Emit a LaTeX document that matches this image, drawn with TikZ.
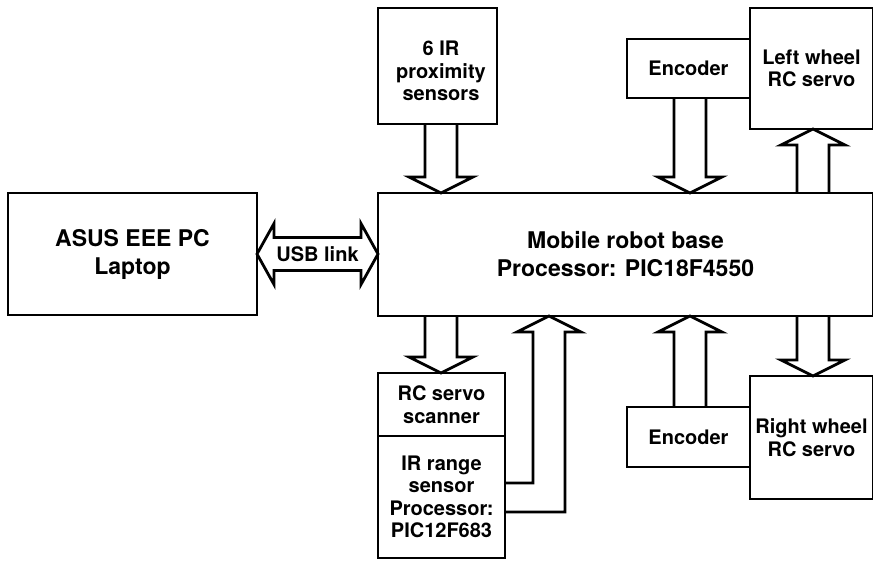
\documentclass[tikz,border=0pt]{standalone}
\usepackage{fontspec}
\setmainfont{TeX Gyre Heros}
\usetikzlibrary{calc}

% Hollow block arrows: #1 = x of the arrow axis, #2 = tail anchor, #3 = tip anchor
\newcommand\fatdown[3]{%
  \draw[fat] let \p1=(#2), \p2=(#3) in
    ({#1pt-16pt},{\y1}) -- ({#1pt-16pt},{\y2+16pt}) -- ({#1pt-32pt},{\y2+16pt})
    -- ({#1pt},{\y2}) -- ({#1pt+32pt},{\y2+16pt}) -- ({#1pt+16pt},{\y2+16pt})
    -- ({#1pt+16pt},{\y1});}
\newcommand\fatup[3]{%
  \draw[fat] let \p1=(#2), \p2=(#3) in
    ({#1pt-16pt},{\y1}) -- ({#1pt-16pt},{\y2-16pt}) -- ({#1pt-32pt},{\y2-16pt})
    -- ({#1pt},{\y2}) -- ({#1pt+32pt},{\y2-16pt}) -- ({#1pt+16pt},{\y2-16pt})
    -- ({#1pt+16pt},{\y1});}

\begin{document}
\begin{tikzpicture}[x=1pt,y=-1pt,
  box/.style={draw, line width=2.8pt, outer sep=0pt, inner sep=0pt, align=center,
    font=\bfseries\fontsize{20}{22.5}\selectfont},
  bigbox/.style={box, font=\bfseries\fontsize{23}{28}\selectfont},
  lbl/.style={align=center, inner sep=0pt, font=\bfseries\fontsize{20}{22.5}\selectfont},
  fat/.style={draw, line width=2.8pt, line join=miter}]
\useasboundingbox (0,0) rectangle (873,563);

% blocks
\node[bigbox, minimum width=249, minimum height=122] (laptop) at (132.5,254) {ASUS EEE PC\\Laptop};
\node[bigbox, minimum width=495, minimum height=123] (main) at (625.5,254.5) {Mobile robot base\\Processor: PIC18F4550};
\node[box, minimum width=119, minimum height=116] (prox) at (437.5,66) {};
\node[lbl] (proxtext) at (441,71) {6 IR\\proximity\\sensors};
\node[box, minimum width=123, minimum height=59] (enc1) at (688.5,68.5) {Encoder};
\node[box, minimum width=123, minimum height=121] (lw) at (811.5,68.5) {Left wheel\\RC servo};
\node[box, minimum width=123, minimum height=60] (enc2) at (688.5,437) {Encoder};
\node[box, minimum width=123, minimum height=123] (rw) at (811.5,437.5) {Right wheel\\RC servo};
\node[box, minimum width=127, minimum height=63] (rcs) at (441.5,404.5) {RC servo\\scanner};
\node[box, minimum width=127, minimum height=122] (irs) at (441.5,497) {IR range\\sensor\\Processor:\\PIC12F683};

% block arrows above the base
\fatdown{441}{prox.south}{main.north}
\fatdown{690}{enc1.south}{main.north}
\fatup{813}{main.north}{lw.south}

% block arrows below the base
\fatdown{441}{main.south}{rcs.north}
\fatup{690}{enc2.north}{main.south}
\fatdown{813}{main.south}{rw.north}

% bent arrow from the range sensor up to the base
\draw[fat] let \p1=(main.south), \p2=(irs.east) in
  (\x2,-483pt) -- (533pt,-483pt) -- (533pt,{\y1-16pt}) -- (517pt,{\y1-16pt})
  -- (549pt,\y1) -- (581pt,{\y1-16pt}) -- (565pt,{\y1-16pt}) -- (565pt,-512pt)
  -- (\x2,-512pt);

% USB link: double-headed block arrow
\draw[fat] let \p1=(laptop.east), \p2=(main.west) in
  (\x1,\y1) -- ({\x1+17pt},{\y1+30.5pt}) -- ({\x1+17pt},{\y1+16.5pt})
  -- ({\x2-17pt},{\y1+16.5pt}) -- ({\x2-17pt},{\y1+30.5pt}) -- (\x2,\y1)
  -- ({\x2-17pt},{\y1-30.5pt}) -- ({\x2-17pt},{\y1-16.5pt})
  -- ({\x1+17pt},{\y1-16.5pt}) -- ({\x1+17pt},{\y1-30.5pt}) -- cycle;
\node[lbl] (usb) at ($(laptop.east)!0.5!(main.west)$) {USB link};
\end{tikzpicture}
\end{document}
